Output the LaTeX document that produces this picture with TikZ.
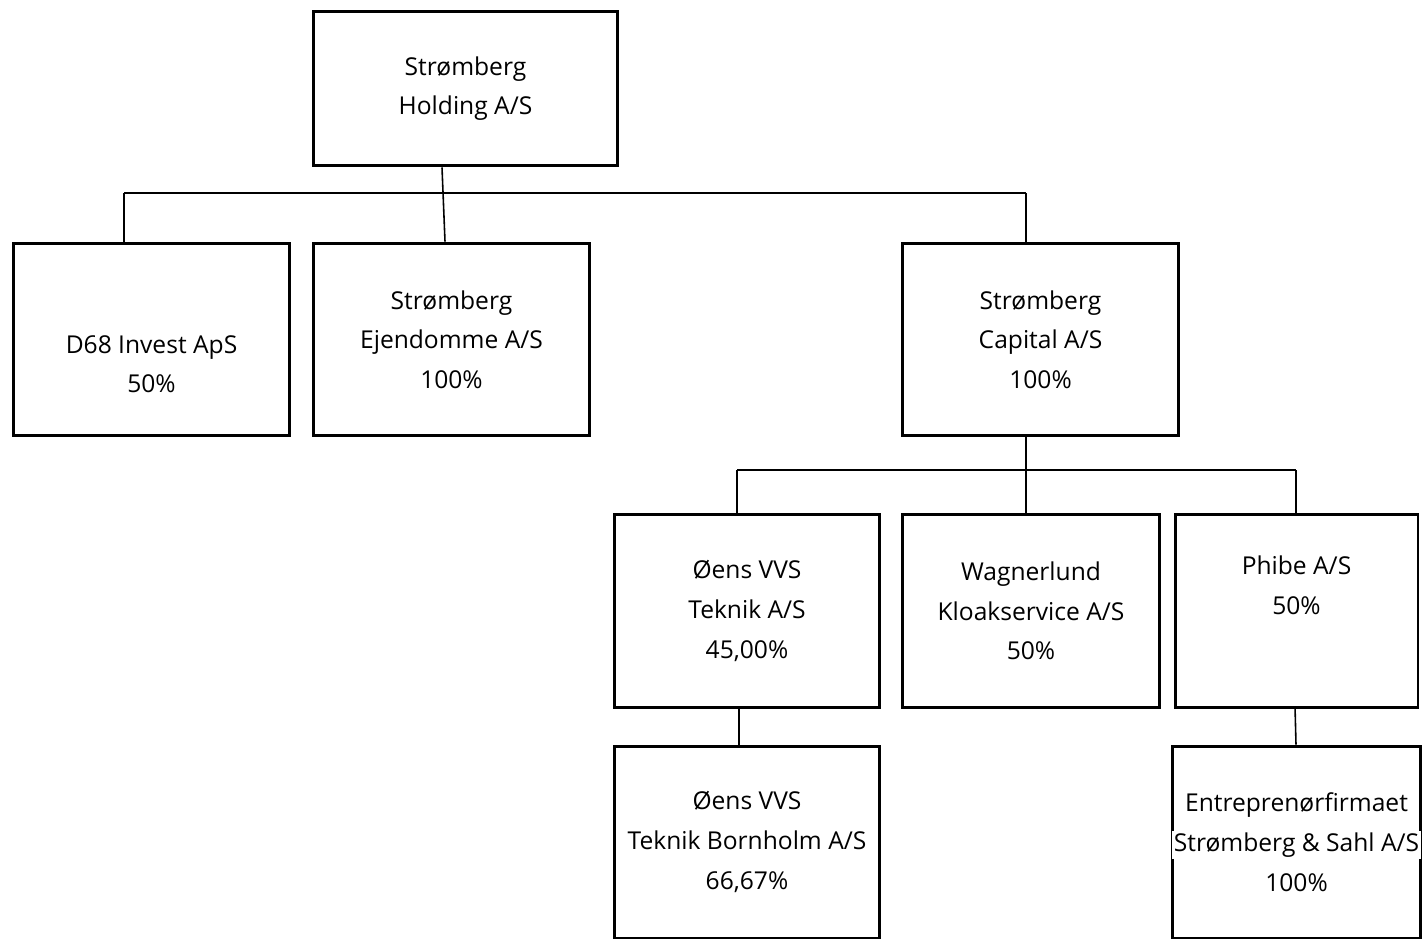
\documentclass[tikz,border=0pt]{standalone}
\usepackage{fontspec}
\setmainfont{Open Sans}
\usepackage{tikz}
\usetikzlibrary{positioning,calc}

\begin{document}
\begin{tikzpicture}[x=0.02cm,y=-0.02cm,
	firma/.style={draw, line width=1.7pt, align=center, inner sep=0pt,
		font=\fontsize{14}{22.6}\selectfont},
	wire/.style={line width=0.9pt}]
	\useasboundingbox (0,0) rectangle (1426,940);
	% top
	\node[firma, minimum width=6.1cm, minimum height=3.1cm] (holding) at (465.5,88.5) {Strømberg\\Holding A/S};
	% second row
	\node[firma, minimum width=5.54cm, minimum height=3.86cm] (d68) at (151.5,339.5) {\strut\\D68 Invest ApS\\50\%};
	\node[firma, minimum width=5.54cm, minimum height=3.86cm] (ejendomme) at (451.5,339.5) {Strømberg\\Ejendomme A/S\\100\%};
	\node[firma, minimum width=5.54cm, minimum height=3.86cm] (capital) at (1040.5,339.5) {Strømberg\\Capital A/S\\100\%};
	% third row
	\node[firma, minimum width=5.32cm, minimum height=3.88cm] (oens) at (747,611) {Øens VVS\\Teknik A/S\\45,00\%};
	\node[firma, minimum width=5.16cm, minimum height=3.88cm] (wagner) at (1031,611) {Wagnerlund\\Kloakservice A/S\\50\%};
	\node[firma, minimum width=4.86cm, minimum height=3.88cm] (phibe) at (1296.5,611) {Phibe A/S\\50\%\\\strut};
	% bottom row
	\node[firma, minimum width=5.32cm, minimum height=3.84cm] (bornholm) at (747,842) {Øens VVS\\Teknik Bornholm A/S\\66,67\%};
	\node[firma, minimum width=4.86cm, minimum height=3.84cm] (entre) at (1296.5,842) {Entreprenørfirmaet\\{\setlength{\fboxsep}{1pt}\colorbox{white}{Strømberg \& Sahl A/S}}\\100\%};

	% connectors
	\coordinate (busa) at (124,193);
	\coordinate (busb) at (1026,193);
	\coordinate (busc) at (737,470);
	\coordinate (busd) at (1296,470);
	\draw[wire] (busa) -- (busb);
	\draw[wire] (busa) -- (busa |- d68.north);
	\draw[wire] (busb) -- (busb |- capital.north);
	\draw[wire] ($(holding.south)+(-23.5,0)$) -- ($(ejendomme.north)+(-6.5,0)$);
	\draw[wire] (busc) -- (busd);
	\draw[wire] (busc) -- (busc |- oens.north);
	\draw[wire] (busd) -- (busd |- phibe.north);
	\draw[wire] (busb |- capital.south) -- (busb |- wagner.north);
	\draw[wire] ($(oens.south)+(-8,0)$) -- ($(bornholm.north)+(-8,0)$);
	\draw[wire] ($(phibe.south)+(-1.5,-3)$) -- ($(entre.north)+(-0.5,0)$);
\end{tikzpicture}
\end{document}
